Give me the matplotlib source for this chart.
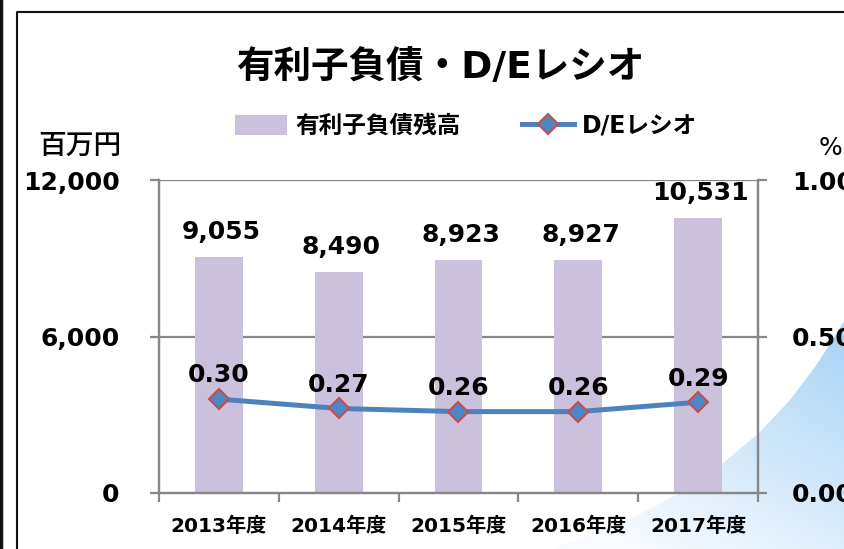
import numpy as np
import matplotlib
matplotlib.use("Agg")
import matplotlib.pyplot as plt
from matplotlib.patches import Patch, Polygon
from matplotlib.lines import Line2D

plt.rcParams['font.family'] = ['DejaVu Sans', 'Noto Sans CJK JP']

categories = ["2013年度", "2014年度", "2015年度", "2016年度", "2017年度"]
debt = [9055, 8490, 8923, 8927, 10531]
de_ratio = [0.30, 0.27, 0.26, 0.26, 0.29]
left_ticks = [0, 6000, 12000]
left_ticklabels = ["0", "6,000", "12,000"]
right_ticks = [0.0, 0.5, 1.0]
right_ticklabels = ["0.00", "0.50", "1.00"]

title = "有利子負債・D/Eレシオ"
bar_label = "有利子負債残高"
line_label = "D/Eレシオ"

W, H = 845, 549
fig = plt.figure(figsize=(W / 100, H / 100), dpi=100)
fig.patch.set_facecolor("white")

# background decoration (figure pixel coords)
bg = fig.add_axes([0, 0, 1, 1], zorder=-5)
bg.set_xlim(0, W)
bg.set_ylim(H, 0)
bg.axis("off")
yy, xx = np.mgrid[300:H:2, 540:W:2]
a = np.clip(0.75 * (H - yy) / 230 + 0.35 * (xx - 640) / 205, 0, 1)
blue = np.array([0.68, 0.84, 0.96])
white = np.array([0.97, 0.985, 1.0])
img = white[None, None, :] * (1 - a[..., None]) + blue[None, None, :] * a[..., None]
im = bg.imshow(img, extent=(540, W, H, 300), aspect="auto", zorder=0)
pts = [(555, 549), (600, 531), (640, 514), (680, 493), (723, 463), (760, 432),
       (790, 400), (815, 367), (837, 333), (845, 320), (845, 549)]
poly = Polygon(pts, closed=True, transform=bg.transData, facecolor="none", edgecolor="none")
bg.add_patch(poly)
im.set_clip_path(poly)

# frame lines
bg.plot([1.5, 1.5], [0, H], color="#111111", lw=2.5)
bg.plot([17, 17, W], [H, 12, 12], color="#111111", lw=1.5)

# main axes
ax = fig.add_axes([159 / W, 1 - 493 / H, (758 - 159) / W, (493 - 180) / H])
ax.set_facecolor("none")
x = np.arange(len(categories))
gray = "#878787"

ax.set_ylim(0, 12000)
ax.set_xlim(-0.5, len(categories) - 0.5)
for t in left_ticks[1:]:
    ax.axhline(t, color=gray, lw=1.6, zorder=1)
ax.bar(x, debt, width=0.4, color="#CBC1DC", zorder=2)
for xi, v in zip(x, debt):
    ax.annotate(f"{v:,}", (xi, v), xytext=(2, 18), textcoords="offset points",
                ha="center", va="center", fontsize=18, fontweight="bold", zorder=5)

ax.spines["top"].set_visible(False)
for s in ["left", "right", "bottom"]:
    ax.spines[s].set_color(gray)
    ax.spines[s].set_linewidth(1.6)

ax.set_yticks(left_ticks)
ax.set_yticklabels(left_ticklabels, fontsize=18, fontweight="bold")
ax.tick_params(axis="y", length=6.5, width=1.6, color=gray, pad=22)

ax.set_xticks(np.arange(len(categories) + 1) - 0.5)
ax.set_xticklabels([])
ax.set_xticks(x, minor=True)
ax.set_xticklabels(categories, minor=True, fontsize=14.5, fontweight="bold")
ax.tick_params(axis="x", which="major", length=6.5, width=1.6, color=gray, direction="out")
ax.tick_params(axis="x", which="minor", length=0, pad=17)

ax2 = ax.twinx()
ax2.set_ylim(0, 1)
ax2.spines["top"].set_visible(False)
for s in ["left", "right", "bottom"]:
    ax2.spines[s].set_color(gray)
    ax2.spines[s].set_linewidth(1.6)
ax2.plot(x, de_ratio, color="#4F81BD", lw=3.6, marker="D", ms=10,
         markerfacecolor="#4F86C6", markeredgecolor="#C0504D", markeredgewidth=1.5, zorder=4)
for xi, v in zip(x, de_ratio):
    ax2.annotate(f"{v:.2f}", (xi, v), xytext=(0, 17), textcoords="offset points",
                 ha="center", va="center", fontsize=18, fontweight="bold", zorder=5)
ax2.set_yticks(right_ticks)
ax2.set_yticklabels(right_ticklabels, fontsize=18, fontweight="bold")
ax2.tick_params(axis="y", length=6.5, width=1.6, color=gray, pad=18)

# title and units
fig.text(440 / W, 1 - 68 / H, title, ha="center", va="center", fontsize=27, fontweight="bold")
fig.text(80 / W, 1 - 146 / H, "百万円", ha="center", va="center", fontsize=20, fontweight="medium")
fig.text(831 / W, 1 - 148 / H, "%", ha="center", va="center", fontsize=18)

# legend
handles = [Patch(facecolor="#CBC1DC", edgecolor="none"),
           Line2D([], [], color="#4F81BD", lw=3.6, marker="D", ms=10,
                  markerfacecolor="#4F86C6", markeredgecolor="#C0504D", markeredgewidth=1.5)]
leg = fig.legend(handles, [bar_label, line_label], loc="center",
                 bbox_to_anchor=(466 / W, 1 - 126 / H), ncol=2, frameon=False,
                 prop={"size": 17, "weight": "bold"}, handlelength=2.2,
                 handleheight=0.9, handletextpad=0.35, columnspacing=2.6)

fig.savefig("out.png", dpi=100, facecolor="white")
